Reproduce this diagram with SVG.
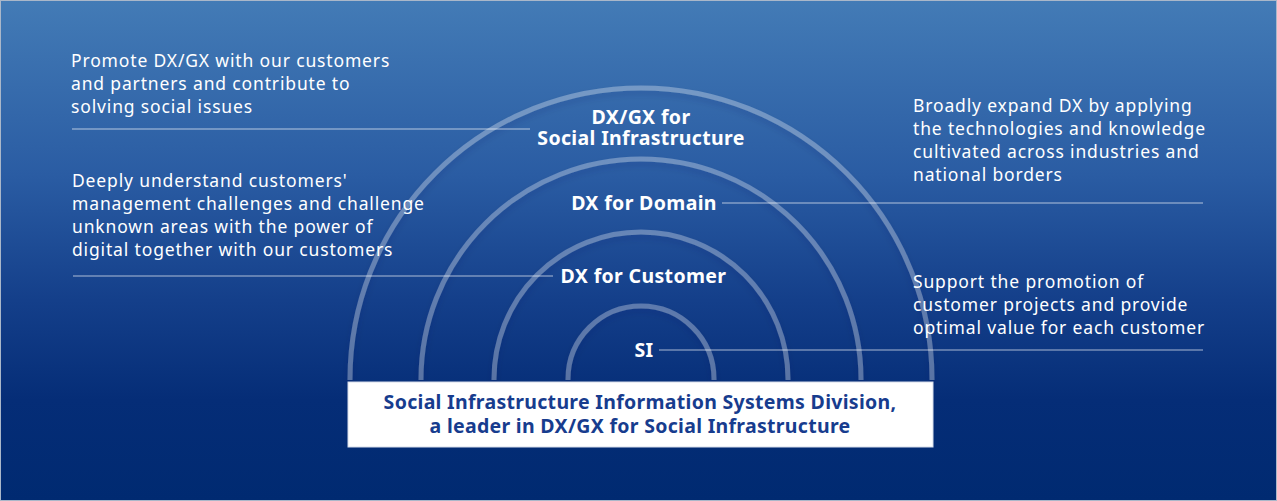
<svg xmlns="http://www.w3.org/2000/svg" width="1277" height="501" viewBox="0 0 1277 501">
  <defs>
    <linearGradient id="bg" x1="0" y1="0" x2="0" y2="1">
      <stop offset="0" stop-color="#437bb6"/>
      <stop offset="0.35" stop-color="#2a5ca3"/>
      <stop offset="0.6" stop-color="#143f8a"/>
      <stop offset="0.8" stop-color="#052d77"/>
      <stop offset="1" stop-color="#002a71"/>
    </linearGradient>
    <filter id="sh" x="-10%" y="-10%" width="120%" height="130%">
      <feDropShadow dx="0" dy="4" stdDeviation="3" flood-color="#001a55" flood-opacity="0.45"/>
    </filter>
    <style>
      .arc { fill: none; stroke: #ffffff; stroke-opacity: 0.3; stroke-width: 5; }
      .lead { stroke: #ffffff; stroke-opacity: 0.65; stroke-width: 1.2; fill: none; }
      .desc { font-family: "Noto Sans", "Liberation Sans", sans-serif; font-size: 17.5px; fill: #ffffff; letter-spacing: 0.85px; }
      .lbl { font-family: "Noto Sans", "Liberation Sans", sans-serif; font-size: 19.5px; font-weight: 700; fill: #ffffff; text-anchor: middle; letter-spacing: 0.35px; }
      .box { fill: #ffffff; stroke: #d5dcea; stroke-width: 1; }
      .boxt { font-family: "Noto Sans", "Liberation Sans", sans-serif; font-size: 19.5px; font-weight: 700; fill: #173c8e; text-anchor: middle; letter-spacing: 0.3px; }
    </style>
  </defs>

  <rect x="0.5" y="0.5" width="1276" height="500" fill="url(#bg)" stroke="#aab7c9" stroke-width="1"/>

  <g id="rings" filter="url(#sh)">
    <path class="arc" d="M350 380 V379 A291 291 0 0 1 932 379 V380"/>
    <path class="arc" d="M421 380 V379 A220 220 0 0 1 861 379 V380"/>
    <path class="arc" d="M494 380 V379 A147 147 0 0 1 788 379 V380"/>
    <path class="arc" d="M568 380 V379 A73 73 0 0 1 714 379 V380"/>
  </g>

  <g id="connectors">
    <line class="lead" x1="72" y1="129" x2="530" y2="129"/>
    <line class="lead" x1="73" y1="276" x2="553" y2="276"/>
    <line class="lead" x1="722" y1="203" x2="1203" y2="203"/>
    <line class="lead" x1="659" y1="350" x2="1203" y2="350"/>
  </g>

  <g id="node-social">
    <text class="lbl" x="641" y="124">DX/GX for</text>
    <text class="lbl" x="641" y="144.5">Social Infrastructure</text>
  </g>
  <g id="node-domain">
    <text class="lbl" x="644" y="210">DX for Domain</text>
  </g>
  <g id="node-customer">
    <text class="lbl" x="643.5" y="283">DX for Customer</text>
  </g>
  <g id="node-si">
    <text class="lbl" x="644" y="357">SI</text>
  </g>

  <g id="desc-social">
    <text class="desc" x="71" y="67">Promote DX/GX with our customers</text>
    <text class="desc" x="71" y="90">and partners and contribute to</text>
    <text class="desc" x="71" y="113">solving social issues</text>
  </g>
  <g id="desc-customer">
    <text class="desc" x="72" y="187">Deeply understand customers'</text>
    <text class="desc" x="72" y="210">management challenges and challenge</text>
    <text class="desc" x="72" y="233">unknown areas with the power of</text>
    <text class="desc" x="72" y="256">digital together with our customers</text>
  </g>
  <g id="desc-domain">
    <text class="desc" x="913" y="112">Broadly expand DX by applying</text>
    <text class="desc" x="913" y="135">the technologies and knowledge</text>
    <text class="desc" x="913" y="158">cultivated across industries and</text>
    <text class="desc" x="913" y="181">national borders</text>
  </g>
  <g id="desc-si">
    <text class="desc" x="913" y="288">Support the promotion of</text>
    <text class="desc" x="913" y="311">customer projects and provide</text>
    <text class="desc" x="913" y="334">optimal value for each customer</text>
  </g>

  <g id="node-division">
    <rect class="box" x="348" y="382" width="585" height="65"/>
    <text class="boxt" x="640" y="409">Social Infrastructure Information Systems Division,</text>
    <text class="boxt" x="640" y="433">a leader in DX/GX for Social Infrastructure</text>
  </g>
</svg>
